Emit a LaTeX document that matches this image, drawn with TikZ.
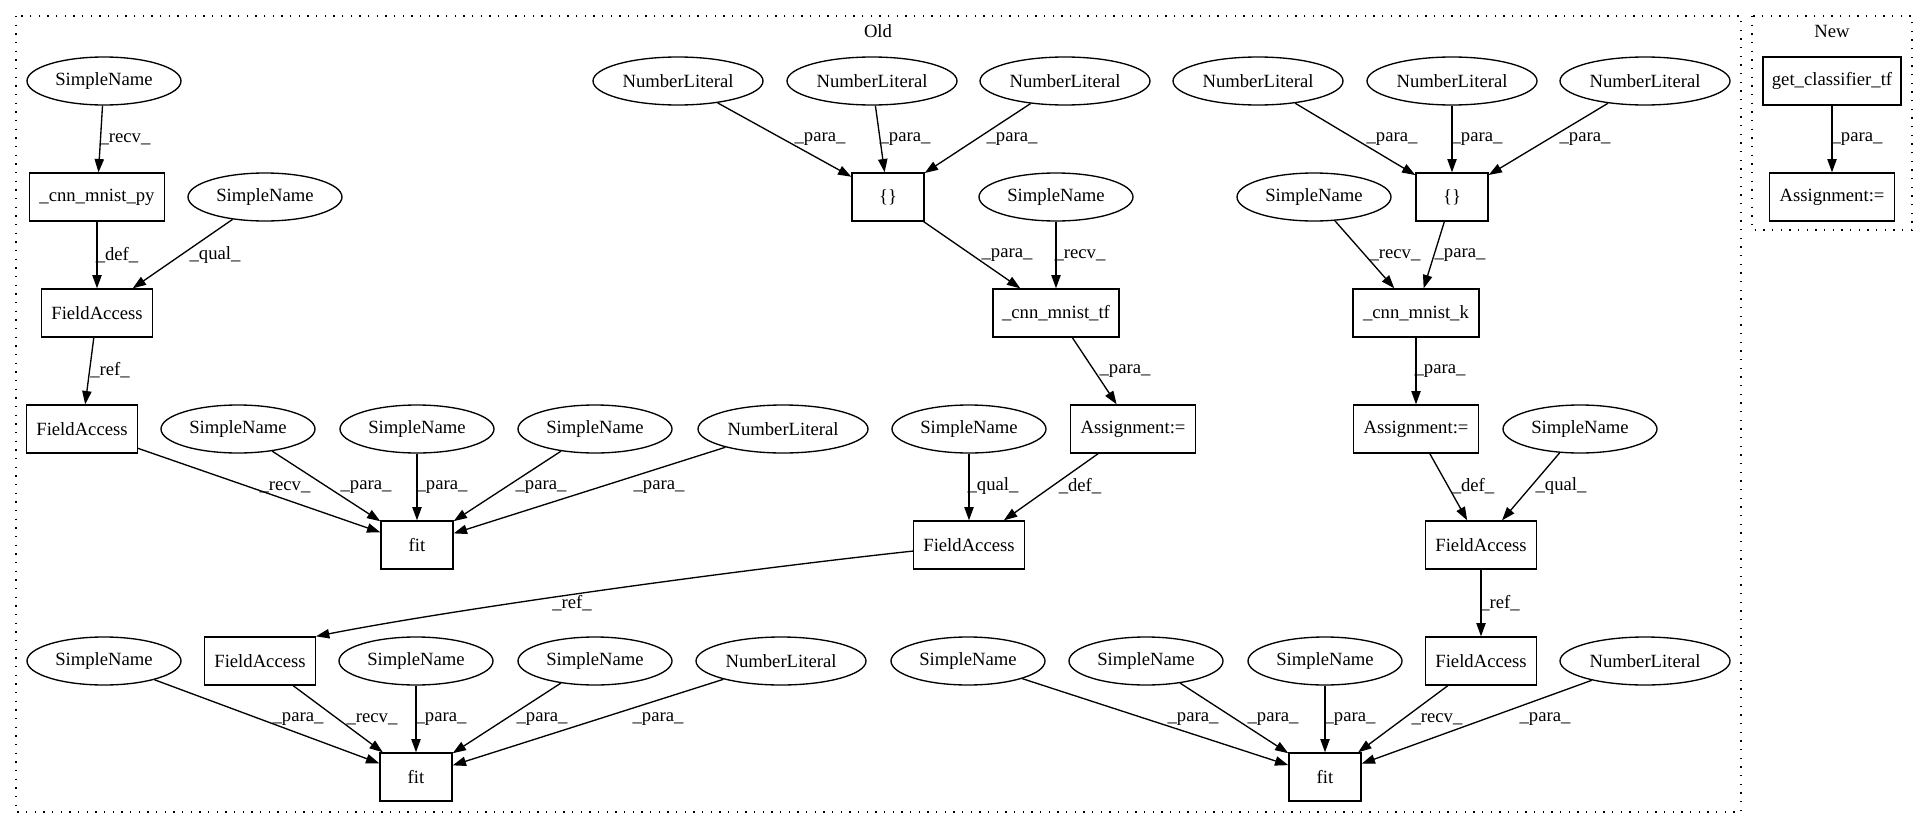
\documentclass[tikz,border=0pt]{standalone}
\usepackage{fontspec}
\setmainfont{Liberation Serif}
\usetikzlibrary{shapes.geometric,arrows.meta}
\tikzset{
  txt/.style={font=\fontsize{14pt}{16pt}\selectfont},
  ell/.style={txt, draw, ellipse, line width=1pt, minimum height=36pt, inner sep=0pt},
  sn/.style={ell, minimum width=115.5pt},
  nl/.style={ell, minimum width=127.5pt},
  bx/.style={txt, draw, rectangle, line width=1pt, minimum height=36pt, inner sep=0pt},
  lbl/.style={txt, inner sep=0pt},
  conn/.style={line width=1pt, -{Triangle[length=10pt,width=7pt]}},
  clus/.style={line width=1pt, dash pattern=on 1pt off 5.5pt},
}
\begin{document}
\begin{tikzpicture}[x=0.75pt,y=-0.75pt]
\useasboundingbox (0,0) rectangle (1928,828);
% clusters
\draw[clus] (16,16) rectangle (1741,812);
\node[lbl] (oldlbl) at (878,31) {Old};
\draw[clus] (1752,16) rectangle (1912,230);
\node[lbl] (newlbl) at (1832,31) {New};

% left group
\node[sn] (sA) at (104,81) {SimpleName};
\node[bx, minimum width=101pt] (py) at (97,197) {\_cnn\_mnist\_py};
\node[sn] (sB) at (265,197) {SimpleName};
\node[bx, minimum width=83pt] (fa1) at (97,313) {FieldAccess};
\node[bx, minimum width=83pt] (fa2) at (82,429) {FieldAccess};
\node[sn] (sC) at (238,429) {SimpleName};
\node[sn] (sD) at (417,429) {SimpleName};
\node[sn] (sE) at (595,429) {SimpleName};
\node[nl] (nA) at (783,429) {NumberLiteral};
\node[bx, minimum width=54pt] (fit1) at (417,545) {fit};
\node[sn] (sF) at (104,661) {SimpleName};
\node[bx, minimum width=83pt] (fa3) at (260,661) {FieldAccess};
\node[sn] (sG) at (416,661) {SimpleName};
\node[sn] (sH) at (595,661) {SimpleName};
\node[nl] (nB) at (781,661) {NumberLiteral};
\node[bx, minimum width=54pt] (fit2) at (416,777) {fit};

% middle group
\node[nl] (nG) at (678,81) {NumberLiteral};
\node[nl] (nH) at (872,81) {NumberLiteral};
\node[nl] (nI) at (1065,81) {NumberLiteral};
\node[bx, minimum width=54pt] (br1) at (888,197) {\{\}};
\node[sn] (sI) at (1056,197) {SimpleName};
\node[bx, minimum width=94.5pt] (tf) at (1056,313) {\_cnn\_mnist\_tf};
\node[bx, minimum width=94pt] (as1) at (1133,429) {Assignment:=};
\node[sn] (sJ) at (969,429) {SimpleName};
\node[bx, minimum width=83pt] (fatf) at (969,545) {FieldAccess};

% right group
\node[nl] (nJ) at (1258,81) {NumberLiteral};
\node[nl] (nK) at (1452,81) {NumberLiteral};
\node[nl] (nL) at (1645,81) {NumberLiteral};
\node[sn] (sK) at (1314,197) {SimpleName};
\node[bx, minimum width=54pt] (br2) at (1452,197) {\{\}};
\node[bx, minimum width=94.5pt] (kk) at (1416,313) {\_cnn\_mnist\_k};
\node[bx, minimum width=94pt] (as2) at (1416,429) {Assignment:=};
\node[sn] (sL) at (1580,429) {SimpleName};
\node[bx, minimum width=83pt] (fak1) at (1481,545) {FieldAccess};
\node[bx, minimum width=83pt] (fak2) at (1481,661) {FieldAccess};
\node[sn] (sM) at (968,661) {SimpleName};
\node[sn] (sN) at (1146,661) {SimpleName};
\node[sn] (sO) at (1325,661) {SimpleName};
\node[nl] (nC) at (1645,661) {NumberLiteral};
\node[bx, minimum width=54pt] (fit3) at (1325,777) {fit};

% new cluster
\node[bx, minimum width=103.5pt] (gc) at (1832,81) {get\_classifier\_tf};
\node[bx, minimum width=94pt] (as3) at (1832,197) {Assignment:=};

% edges left
\draw[conn] (sA) -- (py);
\draw[conn] (py) -- (fa1);
\draw[conn] (sB) -- (fa1);
\draw[conn] (fa1) -- (fa2);
\draw[conn] (fa2) -- (fit1);
\draw[conn] (sC) -- (fit1);
\draw[conn] (sD) -- (fit1);
\draw[conn] (sE) -- (fit1);
\draw[conn] (nA) -- (fit1);
\draw[conn] (sF) -- (fit2);
\draw[conn] (fa3) -- (fit2);
\draw[conn] (sG) -- (fit2);
\draw[conn] (sH) -- (fit2);
\draw[conn] (nB) -- (fit2);
% edges middle
\draw[conn] (nG) -- (br1);
\draw[conn] (nH) -- (br1);
\draw[conn] (nI) -- (br1);
\draw[conn] (br1) -- (tf);
\draw[conn] (sI) -- (tf);
\draw[conn] (tf) -- (as1);
\draw[conn] (as1) -- (fatf);
\draw[conn] (sJ) -- (fatf);
\draw[conn] (fatf) .. controls (720,572) and (450,610) .. (fa3.north east);
% edges right
\draw[conn] (nJ) -- (br2);
\draw[conn] (nK) -- (br2);
\draw[conn] (nL) -- (br2);
\draw[conn] (sK) -- (kk);
\draw[conn] (br2) -- (kk);
\draw[conn] (kk) -- (as2);
\draw[conn] (as2) -- (fak1);
\draw[conn] (sL) -- (fak1);
\draw[conn] (fak1) -- (fak2);
\draw[conn] (fak2) -- (fit3);
\draw[conn] (nC) -- (fit3);
\draw[conn] (sM) -- (fit3);
\draw[conn] (sN) -- (fit3);
\draw[conn] (sO) -- (fit3);
% edge new
\draw[conn] (gc) -- (as3);

% labels
\node[lbl] (l1) at (125,139) {\_recv\_};
\node[lbl] (l2) at (117,255) {\_def\_};
\node[lbl] (l3) at (215,255) {\_qual\_};
\node[lbl] (l4) at (110,370) {\_ref\_};
\node[lbl] (l5) at (285,487) {\_recv\_};
\node[lbl] (l6) at (366,487) {\_para\_};
\node[lbl] (l7) at (442,487) {\_para\_};
\node[lbl] (l8) at (541,487) {\_para\_};
\node[lbl] (l9) at (659,487) {\_para\_};
\node[lbl] (l10) at (298,719) {\_para\_};
\node[lbl] (l11) at (372,719) {\_recv\_};
\node[lbl] (l12) at (441,719) {\_para\_};
\node[lbl] (l13) at (542,719) {\_para\_};
\node[lbl] (l14) at (658,719) {\_para\_};
\node[lbl] (l15) at (820,139) {\_para\_};
\node[lbl] (l16) at (905,139) {\_para\_};
\node[lbl] (l17) at (1012,139) {\_para\_};
\node[lbl] (l18) at (1007,255) {\_para\_};
\node[lbl] (l19) at (1080,255) {\_recv\_};
\node[lbl] (l20) at (1125,371) {\_para\_};
\node[lbl] (l21) at (1080,486) {\_def\_};
\node[lbl] (l22) at (993,486) {\_qual\_};
\node[lbl] (l23) at (572,603) {\_ref\_};
\node[lbl] (l24) at (1392,139) {\_para\_};
\node[lbl] (l25) at (1477,139) {\_para\_};
\node[lbl] (l26) at (1585,139) {\_para\_};
\node[lbl] (l27) at (1395,255) {\_recv\_};
\node[lbl] (l28) at (1460,255) {\_para\_};
\node[lbl] (l29) at (1440,371) {\_para\_};
\node[lbl] (l30) at (1473,486) {\_def\_};
\node[lbl] (l31) at (1561,486) {\_qual\_};
\node[lbl] (l32) at (1500,603) {\_ref\_};
\node[lbl] (l33) at (1437,719) {\_recv\_};
\node[lbl] (l34) at (1545,719) {\_para\_};
\node[lbl] (l35) at (1193,719) {\_para\_};
\node[lbl] (l36) at (1273,719) {\_para\_};
\node[lbl] (l37) at (1350,719) {\_para\_};
\node[lbl] (l38) at (1857,139) {\_para\_};
\end{tikzpicture}
\end{document}
